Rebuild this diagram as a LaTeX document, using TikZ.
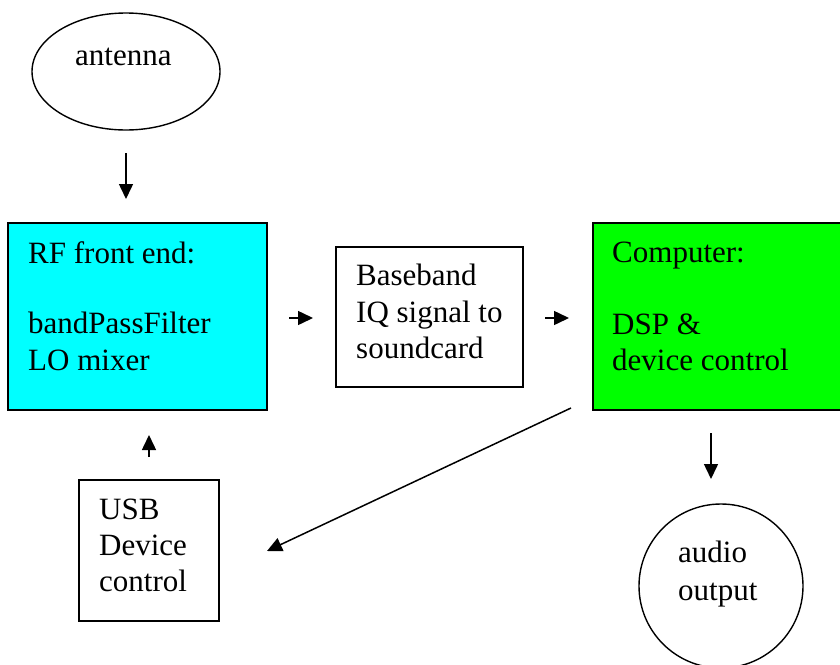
\documentclass[tikz,border=0pt]{standalone}
\usepackage{fontspec}
\setmainfont{Liberation Serif}
\usetikzlibrary{arrows.meta,shapes.geometric}
\definecolor{rfcyan}{HTML}{00FFFF}
\definecolor{pcgreen}{HTML}{00FF00}
\begin{document}
\begin{tikzpicture}[x=1pt,y=-1pt,
  box/.style={draw, line width=1.5pt, inner sep=0pt, outer sep=0pt, anchor=north west},
  txt/.style={anchor=base west, inner sep=0pt, font=\fontsize{31}{36}\selectfont},
  arr/.style={-{Triangle[length=15pt,width=14pt]}, line width=1.5pt}]
\useasboundingbox (0,0) rectangle (840,664);

% shapes
\node[draw, line width=1.4pt, ellipse, inner sep=0pt, minimum width=188pt, minimum height=117pt] (ant) at (126,71.5) {};
\node[box, fill=rfcyan, minimum width=259pt, minimum height=187pt] (rf) at (8,223) {};
\node[box, minimum width=187pt, minimum height=140pt] (bb) at (336,247) {};
\node[box, fill=pcgreen, minimum width=260pt, minimum height=187pt] (pc) at (593,223) {};
\node[box, minimum width=140pt, minimum height=141pt] (usb) at (79,480) {};
\node[draw, line width=1.4pt, circle, inner sep=0pt, minimum size=164pt] (aud) at (721,586) {};

% texts
\node[txt] (t-ant) at (75,65) {antenna};
\node[txt] (t-rf1) at (28,263) {RF front end:};
\node[txt] (t-rf2) at (28,333) {bandPassFilter};
\node[txt] (t-rf3) at (28,370) {LO mixer};
\node[txt] (t-bb1) at (356,285) {Baseband};
\node[txt] (t-bb2) at (356,322) {IQ signal to};
\node[txt] (t-bb3) at (356,358) {soundcard};
\node[txt] (t-pc1) at (612,262) {Computer:};
\node[txt] (t-pc2) at (612,334) {DSP \&};
\node[txt] (t-pc3) at (612,370) {device control};
\node[txt] (t-usb1) at (99,519) {USB};
\node[txt] (t-usb2) at (99,555) {Device};
\node[txt] (t-usb3) at (99,591) {control};
\node[txt] (t-aud1) at (678,562) {audio};
\node[txt] (t-aud2) at (678,600) {output};

% arrow end points
\coordinate (a1s) at (126,153); \coordinate (a1e) at (126,199);
\coordinate (a2s) at (289,318); \coordinate (a2e) at (313,318);
\coordinate (a3s) at (545,318); \coordinate (a3e) at (569,318);
\coordinate (a4s) at (571,408); \coordinate (a4e) at (267,551);
\coordinate (a5s) at (711,433); \coordinate (a5e) at (711,479);
\coordinate (a6s) at (149,457); \coordinate (a6e) at (149,435);

\draw[arr] (a1s) -- (a1e);
\draw[arr] (a2s) -- (a2e);
\draw[arr] (a3s) -- (a3e);
\draw[arr] (a4s) -- (a4e);
\draw[arr] (a5s) -- (a5e);
\draw[arr] (a6s) -- (a6e);
\end{tikzpicture}
\end{document}
